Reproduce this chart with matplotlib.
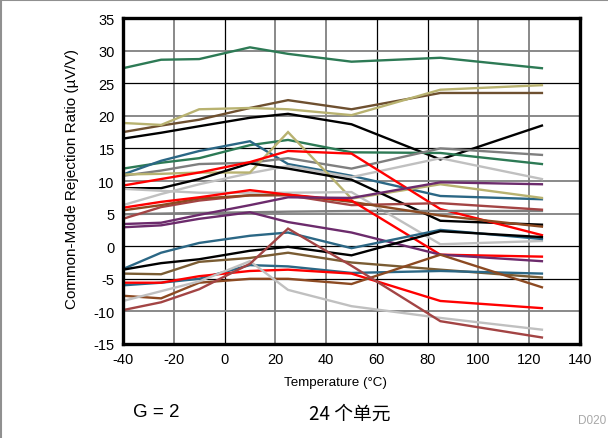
import matplotlib
matplotlib.use("Agg")
import matplotlib.pyplot as plt
from matplotlib.lines import Line2D

plt.rcParams['font.family'] = ['Liberation Sans', 'DejaVu Sans']
plt.rcParams['axes.unicode_minus'] = False

temps = [-40, -25, -10, 10, 25, 50, 85, 125]

green_a  = [27.3, 28.6, 28.7, 30.5, 29.5, 28.3, 28.9, 27.3]
brown_a  = [17.5, 18.5, 19.4, 21.2, 22.4, 21.0, 23.5, 23.5]
khaki_a  = [18.9, 18.6, 21.0, 21.2, 21.0, 20.1, 24.0, 24.7]
black_a  = [16.5, 17.4, 18.4, 19.7, 20.3, 18.7, 13.3, 18.5]
green_b  = [11.9, 12.8, 13.5, 15.5, 16.3, 14.4, 14.3, 12.6]
teal_a   = [11.0, 13.1, 14.6, 16.1, 12.6, 10.8, 7.7, 7.2]
grey_a   = [10.8, 11.6, 12.6, 12.8, 13.5, 11.9, 15.0, 14.0]
red_a    = [9.3, 10.3, 11.3, 12.9, 14.6, 14.2, 5.7, 1.7]
khaki_b  = [11.0, 11.1, 11.3, 11.3, 17.5, 7.3, 9.5, 7.4]
lgrey_b  = [6.3, 8.0, 9.5, 11.2, 12.3, 10.6, 13.5, 10.3]
black_b  = [8.9, 8.9, 10.3, 12.7, 11.9, 10.2, 3.9, 3.3]
lgrey_a  = [8.8, 8.5, 8.2, 8.2, 8.2, 8.3, 0.3, 0.8]
red_b    = [5.9, 6.8, 7.5, 8.6, 7.9, 7.0, -1.3, -1.6]
brown_b  = [5.5, 6.3, 7.3, 7.8, 7.9, 6.8, 4.7, 3.0]
dred_b   = [4.2, 6.0, 7.0, 7.8, 7.8, 6.3, 6.6, 5.6]
grey_g   = [4.9, 5.0, 5.1, 5.2, 5.3, 5.4, 5.4, 5.4]
purple_a = [3.4, 3.6, 4.8, 6.3, 7.5, 7.4, 9.8, 9.5]
purple_b = [2.9, 3.2, 4.2, 5.2, 3.7, 2.1, -1.3, -2.3]
teal_d   = [-3.5, -1.0, 0.5, 1.6, 2.1, -0.3, 2.5, 1.1]
black_c  = [-3.6, -2.6, -2.0, -0.7, -0.1, -1.4, 2.3, 1.4]
brown_d  = [-4.2, -4.3, -2.4, -1.8, -1.0, -2.5, -3.6, -4.8]
red_c    = [-5.6, -5.6, -4.6, -3.8, -3.6, -4.2, -8.4, -9.5]
teal_e   = [-6.0, -5.6, -5.0, -2.9, -3.1, -4.1, -3.8, -4.2]
brown_e  = [-7.6, -8.0, -5.6, -5.0, -5.0, -5.8, -1.3, -6.3]
dred_f   = [-9.8, -8.6, -6.6, -2.7, 2.7, -3.0, -11.5, -14.0]
lgrey_c  = [-8.4, -6.9, -5.4, -2.3, -6.7, -9.2, -11.0, -12.8]

GREEN = '#2d7a55'
BROWN = '#6e5030'
KHAKI = '#b8b270'
TEAL = '#2b6785'
GREY = '#7f7f7f'
LGREY = '#c0c0c0'
RED = '#ff0000'
PURPLE = '#6c2b6c'
DRED = '#a34444'
SIENNA = '#8c4a22'
OLIVE = '#7a5c33'
BLACK = '#000000'

series = [
    (green_a, GREEN), (brown_a, BROWN), (khaki_a, KHAKI), (black_a, BLACK),
    (green_b, GREEN), (teal_a, TEAL), (grey_a, GREY), (lgrey_b, LGREY),
    (khaki_b, KHAKI), (black_b, BLACK), (lgrey_a, LGREY), (red_a, RED),
    (grey_g, GREY), (dred_b, DRED), (brown_b, SIENNA), (red_b, RED),
    (purple_a, PURPLE), (purple_b, PURPLE), (teal_d, TEAL), (black_c, BLACK),
    (brown_d, OLIVE), (teal_e, TEAL), (red_c, RED), (brown_e, SIENNA),
    (lgrey_c, LGREY), (dred_f, DRED),
]

xticks = [-40, -20, 0, 20, 40, 60, 80, 100, 120, 140]
yticks = [-15, -10, -5, 0, 5, 10, 15, 20, 25, 30, 35]
xgrid_dark = {0, 60, 80}
ygrid_dark = {25, 15, 0, -5}

fig = plt.figure(figsize=(6.08, 4.39), dpi=100)
ax = fig.add_axes([123/608, 1-345/439, 457/608, 326/439])

for vals, col in series:
    ax.plot(temps, vals, color=col, lw=1.7, solid_joinstyle='miter', zorder=3)

ax.set_xlim(-40, 140)
ax.set_ylim(-15, 35)
ax.set_xticks(xticks)
ax.set_yticks(yticks)
ax.tick_params(length=0, labelsize=10.5, pad=6)

for t in xticks[1:-1]:
    dark = t in xgrid_dark
    ax.axvline(t, color='#000000' if dark else '#808080', lw=0.9 if dark else 1.3, zorder=1)
for t in yticks[1:-1]:
    dark = t in ygrid_dark
    ax.axhline(t, color='#000000' if dark else '#808080', lw=0.9 if dark else 1.3, zorder=1)

for s in ax.spines.values():
    s.set_linewidth(2.4)
    s.set_zorder(5)

ax.set_xlabel('Temperature (°C)', fontsize=9.6)
ax.xaxis.set_label_coords(0.466, -0.117)
ax.xaxis.label.set_va('center')
ax.set_ylabel('Common-Mode Rejection Ratio (µV/V)', fontsize=11)
ax.yaxis.set_label_coords(-0.112, 0.51)
ax.yaxis.label.set_va('center')

fig.text(606/608, 1-421/439, 'D020', color='#a8a8a8', fontsize=8.5, ha='right', va='center')
fig.text(133/608, 1-413/439, 'G = 2', fontsize=13.5, ha='left', va='center')
fig.text(309/608, 1-414/439, '24 个单元', fontsize=13.5, ha='left', va='center',
         family=['Noto Sans CJK SC', 'Liberation Sans', 'DejaVu Sans'])

fig.add_artist(Line2D([0.5/608, 0.5/608], [0, 1], transform=fig.transFigure, color='#909090', lw=1.5))
fig.add_artist(Line2D([0, 1], [1-1/439, 1-1/439], transform=fig.transFigure, color='#909090', lw=1.5))

fig.savefig('out.png', dpi=100)
